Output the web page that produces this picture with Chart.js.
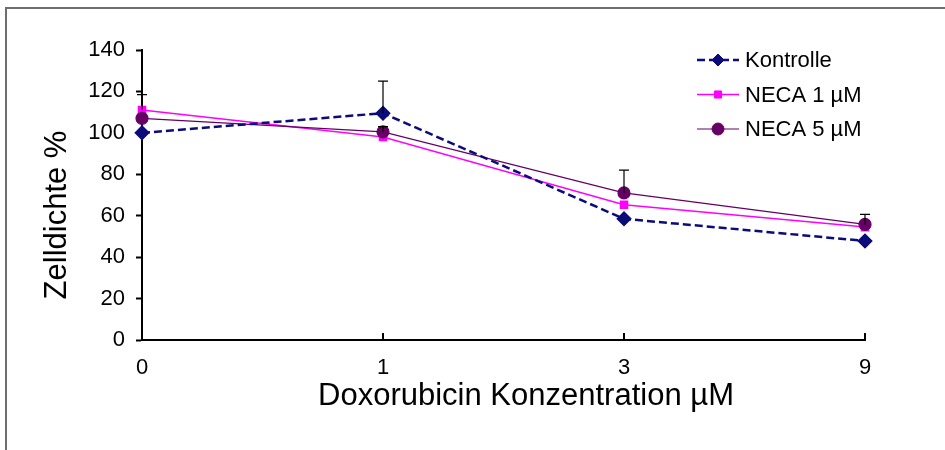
<!DOCTYPE html>
<html>
<head>
<meta charset="utf-8">
<script src="https://cdn.jsdelivr.net/npm/chart.js@4/dist/chart.umd.min.js"></script>
<style>
  html, body { margin: 0; padding: 0; background: #fff; }
  #wrap { position: relative; width: 945px; height: 450px; overflow: hidden; }
  #frame { position: absolute; left: 5px; top: 7px; width: 960px; height: 460px;
           border-top: 2px solid #6e6e6e; border-left: 2px solid #6e6e6e; }
  #holder { position: absolute; left: 0; top: 0; width: 945px; height: 450px; }
</style>
</head>
<body>
<div id="wrap">
  <div id="frame"></div>
  <div id="holder"><canvas id="zellChart"></canvas></div>
</div>
<script>
// Doxorubicin-Konzentrationen (µM)
const konzentrationen = ['0', '1', '3', '9'];

// Zelldichte in %
const kontrolle = [100, 109.5, 58.5, 47.8];
const neca1 = [111, 98, 65.3, 54.5];
const neca5 = [107, 100.5, 71, 55.8];

// Fehlerbalken (nur nach oben)
const fehlerKontrolle = [null, 15.5, null, null];
const fehlerNeca1 = [7.5, null, null, null];
const fehlerNeca5 = [null, 2.5, 11, 4.8];

const yTicks = { min: 0, max: 140, step: 20 };

const xTitel = 'Doxorubicin Konzentration µM';
const yTitel = 'Zelldichte %';

const schrift = 'Liberation Sans, Arial, sans-serif';

// Fehlerbalken und kleine Striche an der x-Achse nach innen
const fehlerPlugin = {
    id: 'fehlerbalken',
    afterDatasetsDraw(chart) {
        const ctx = chart.ctx;
        const x = chart.scales.x, y = chart.scales.y;
        ctx.save();
        ctx.strokeStyle = '#000';
        ctx.lineWidth = 1.2;
        chart.data.datasets.forEach(ds => {
            ds.fehler.forEach((f, i) => {
                if (f == null) return;
                const px = x.getPixelForValue(i);
                const y0 = y.getPixelForValue(ds.data[i]);
                const y1 = y.getPixelForValue(ds.data[i] + f);
                ctx.beginPath();
                ctx.moveTo(px, y0);
                ctx.lineTo(px, y1);
                ctx.moveTo(px - 5, y1);
                ctx.lineTo(px + 5, y1);
                ctx.stroke();
            });
        });
        ctx.lineWidth = 2;
        konzentrationen.forEach((k, i) => {
            if (i === 0) return;
            const px = x.getPixelForValue(i);
            ctx.beginPath();
            ctx.moveTo(px, x.top);
            ctx.lineTo(px, x.top - 7);
            ctx.stroke();
        });
        ctx.restore();
    }
};

// Achsentitel, etwas versetzt wie im Excel-Diagramm
const titelPlugin = {
    id: 'achsentitel',
    afterDraw(chart) {
        const ctx = chart.ctx;
        ctx.save();
        ctx.fillStyle = '#000';
        ctx.font = '31px ' + schrift;
        ctx.textAlign = 'center';
        ctx.textBaseline = 'middle';
        ctx.fillText(xTitel, 526, 396);
        ctx.translate(57, 215);
        ctx.rotate(-Math.PI / 2);
        ctx.fillText(yTitel, 0, 0);
        ctx.restore();
    }
};

// Legende oben rechts: Linie mit Marker
const legendePlugin = {
    id: 'legende',
    afterDraw(chart) {
        const ctx = chart.ctx;
        const reihen = [0, 1, 2];
        ctx.save();
        reihen.forEach((idx, n) => {
            const ds = chart.data.datasets[idx];
            const ly = 60 + n * 34.5;
            ctx.strokeStyle = ds.borderColor;
            ctx.lineWidth = ds.borderWidth;
            ctx.setLineDash(ds.borderDash || []);
            ctx.beginPath();
            ctx.moveTo(697, ly);
            ctx.lineTo(739, ly);
            ctx.stroke();
            ctx.setLineDash([]);
            ctx.fillStyle = ds.pointBackgroundColor;
            ctx.strokeStyle = ds.pointBorderColor;
            ctx.lineWidth = 1;
            Chart.helpers.drawPoint(ctx, {
                pointStyle: ds.pointStyle,
                radius: ds.pointRadius,
                rotation: 0,
                borderWidth: 1
            }, 718, ly);
            ctx.fillStyle = '#000';
            ctx.font = '22px ' + schrift;
            ctx.textBaseline = 'middle';
            ctx.fillText(ds.label, 745, ly + 1);
        });
        ctx.restore();
    }
};

new Chart(document.getElementById('zellChart'), {
    type: 'line',
    data: {
        labels: konzentrationen,
        datasets: [{
            label: 'Kontrolle',
            data: kontrolle,
            fehler: fehlerKontrolle,
            borderColor: '#0b0b7a',
            backgroundColor: '#0b0b7a',
            borderWidth: 2.5,
            borderDash: [8, 4],
            pointStyle: 'rectRot',
            pointRadius: 6,
            pointBackgroundColor: '#0b0b7a',
            pointBorderColor: '#0b0b7a',
            order: 0
        }, {
            label: 'NECA 1 µM',
            data: neca1,
            fehler: fehlerNeca1,
            borderColor: '#ff00ff',
            backgroundColor: '#ff00ff',
            borderWidth: 1.5,
            pointStyle: 'rect',
            pointRadius: 5,
            pointBackgroundColor: '#ff00ff',
            pointBorderColor: '#ff00ff',
            order: 2
        }, {
            label: 'NECA 5 µM',
            data: neca5,
            fehler: fehlerNeca5,
            borderColor: '#650065',
            backgroundColor: '#650065',
            borderWidth: 1.2,
            pointStyle: 'circle',
            pointRadius: 6,
            pointBackgroundColor: '#650065',
            pointBorderColor: '#650065',
            order: 1
        }]
    },
    options: {
        responsive: true,
        maintainAspectRatio: false,
        animation: false,
        events: [],
        layout: { padding: { top: 50, right: 80, left: 0, bottom: 0 } },
        elements: { line: { tension: 0 } },
        plugins: { legend: { display: false }, tooltip: { enabled: false } },
        scales: {
            x: {
                type: 'category',
                offset: false,
                grid: { display: false },
                border: { display: true, color: '#000', width: 2 },
                ticks: { color: '#000', font: { family: schrift, size: 22 }, padding: 7, maxRotation: 0 },
                afterFit: s => { s.height = 110; }
            },
            y: {
                min: yTicks.min,
                max: yTicks.max,
                grid: { display: true, drawOnChartArea: false, drawTicks: true, tickLength: 6, tickColor: '#000', tickWidth: 2 },
                border: { display: true, color: '#000', width: 2 },
                ticks: { stepSize: yTicks.step, color: '#000', font: { family: schrift, size: 22 }, padding: 11 },
                afterFit: s => { s.width = 142; }
            }
        }
    },
    plugins: [fehlerPlugin, titelPlugin, legendePlugin]
});
</script>
</body>
</html>
